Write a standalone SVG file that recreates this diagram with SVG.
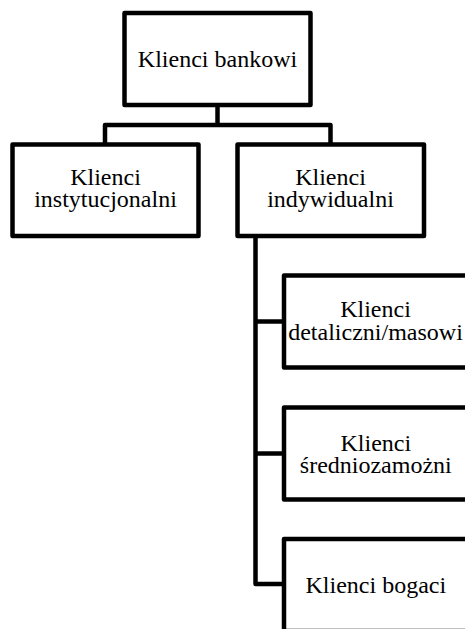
<svg xmlns="http://www.w3.org/2000/svg" width="465" height="629" viewBox="0 0 465 629">
<style>
.box{fill:#fff;stroke:#000;stroke-width:4.5;stroke-linejoin:round}
.con{fill:none;stroke:#000;stroke-width:4.5;stroke-linejoin:round}
.t{font-family:'Liberation Serif',serif;font-size:24px;fill:#000;text-anchor:middle}
</style>
<rect width="465" height="629" fill="#fff"/>
<g id="connectors">
<path class="con" d="M217.5,105 V125"/>
<path class="con" d="M105,144.5 V125 H330.5 V144.5"/>
<path class="con" d="M255.5,235.8 V584 H284"/>
<path class="con" d="M255.5,321.5 H284"/>
<path class="con" d="M255.5,453.5 H284"/>
</g>
<g id="klienci-bankowi">
<rect class="box" x="124.5" y="13" width="186" height="92"/>
<text class="t" x="217.5" y="66.5">Klienci bankowi</text>
</g>
<g id="klienci-instytucjonalni">
<rect class="box" x="12.5" y="144.5" width="186" height="91.5"/>
<text class="t" x="105.5" y="184.5">Klienci</text>
<text class="t" x="105.5" y="207">instytucjonalni</text>
</g>
<g id="klienci-indywidualni">
<rect class="box" x="237.5" y="144.5" width="186.5" height="91.5"/>
<text class="t" x="330.5" y="184.5">Klienci</text>
<text class="t" x="330.5" y="207">indywidualni</text>
</g>
<g id="klienci-detaliczni">
<rect class="box" x="284" y="275.5" width="184" height="92"/>
<text class="t" x="375.5" y="317">Klienci</text>
<text class="t" x="375.5" y="339.5">detaliczni/masowi</text>
</g>
<g id="klienci-sredniozamozni">
<rect class="box" x="284" y="407.5" width="184" height="92"/>
<text class="t" x="375.8" y="450.5">Klienci</text>
<text class="t" x="375.8" y="472.5">średniozamożni</text>
</g>
<g id="klienci-bogaci">
<rect class="box" x="284" y="539" width="184" height="92"/>
<text class="t" x="375.8" y="592.7">Klienci bogaci</text>
</g>
</svg>
